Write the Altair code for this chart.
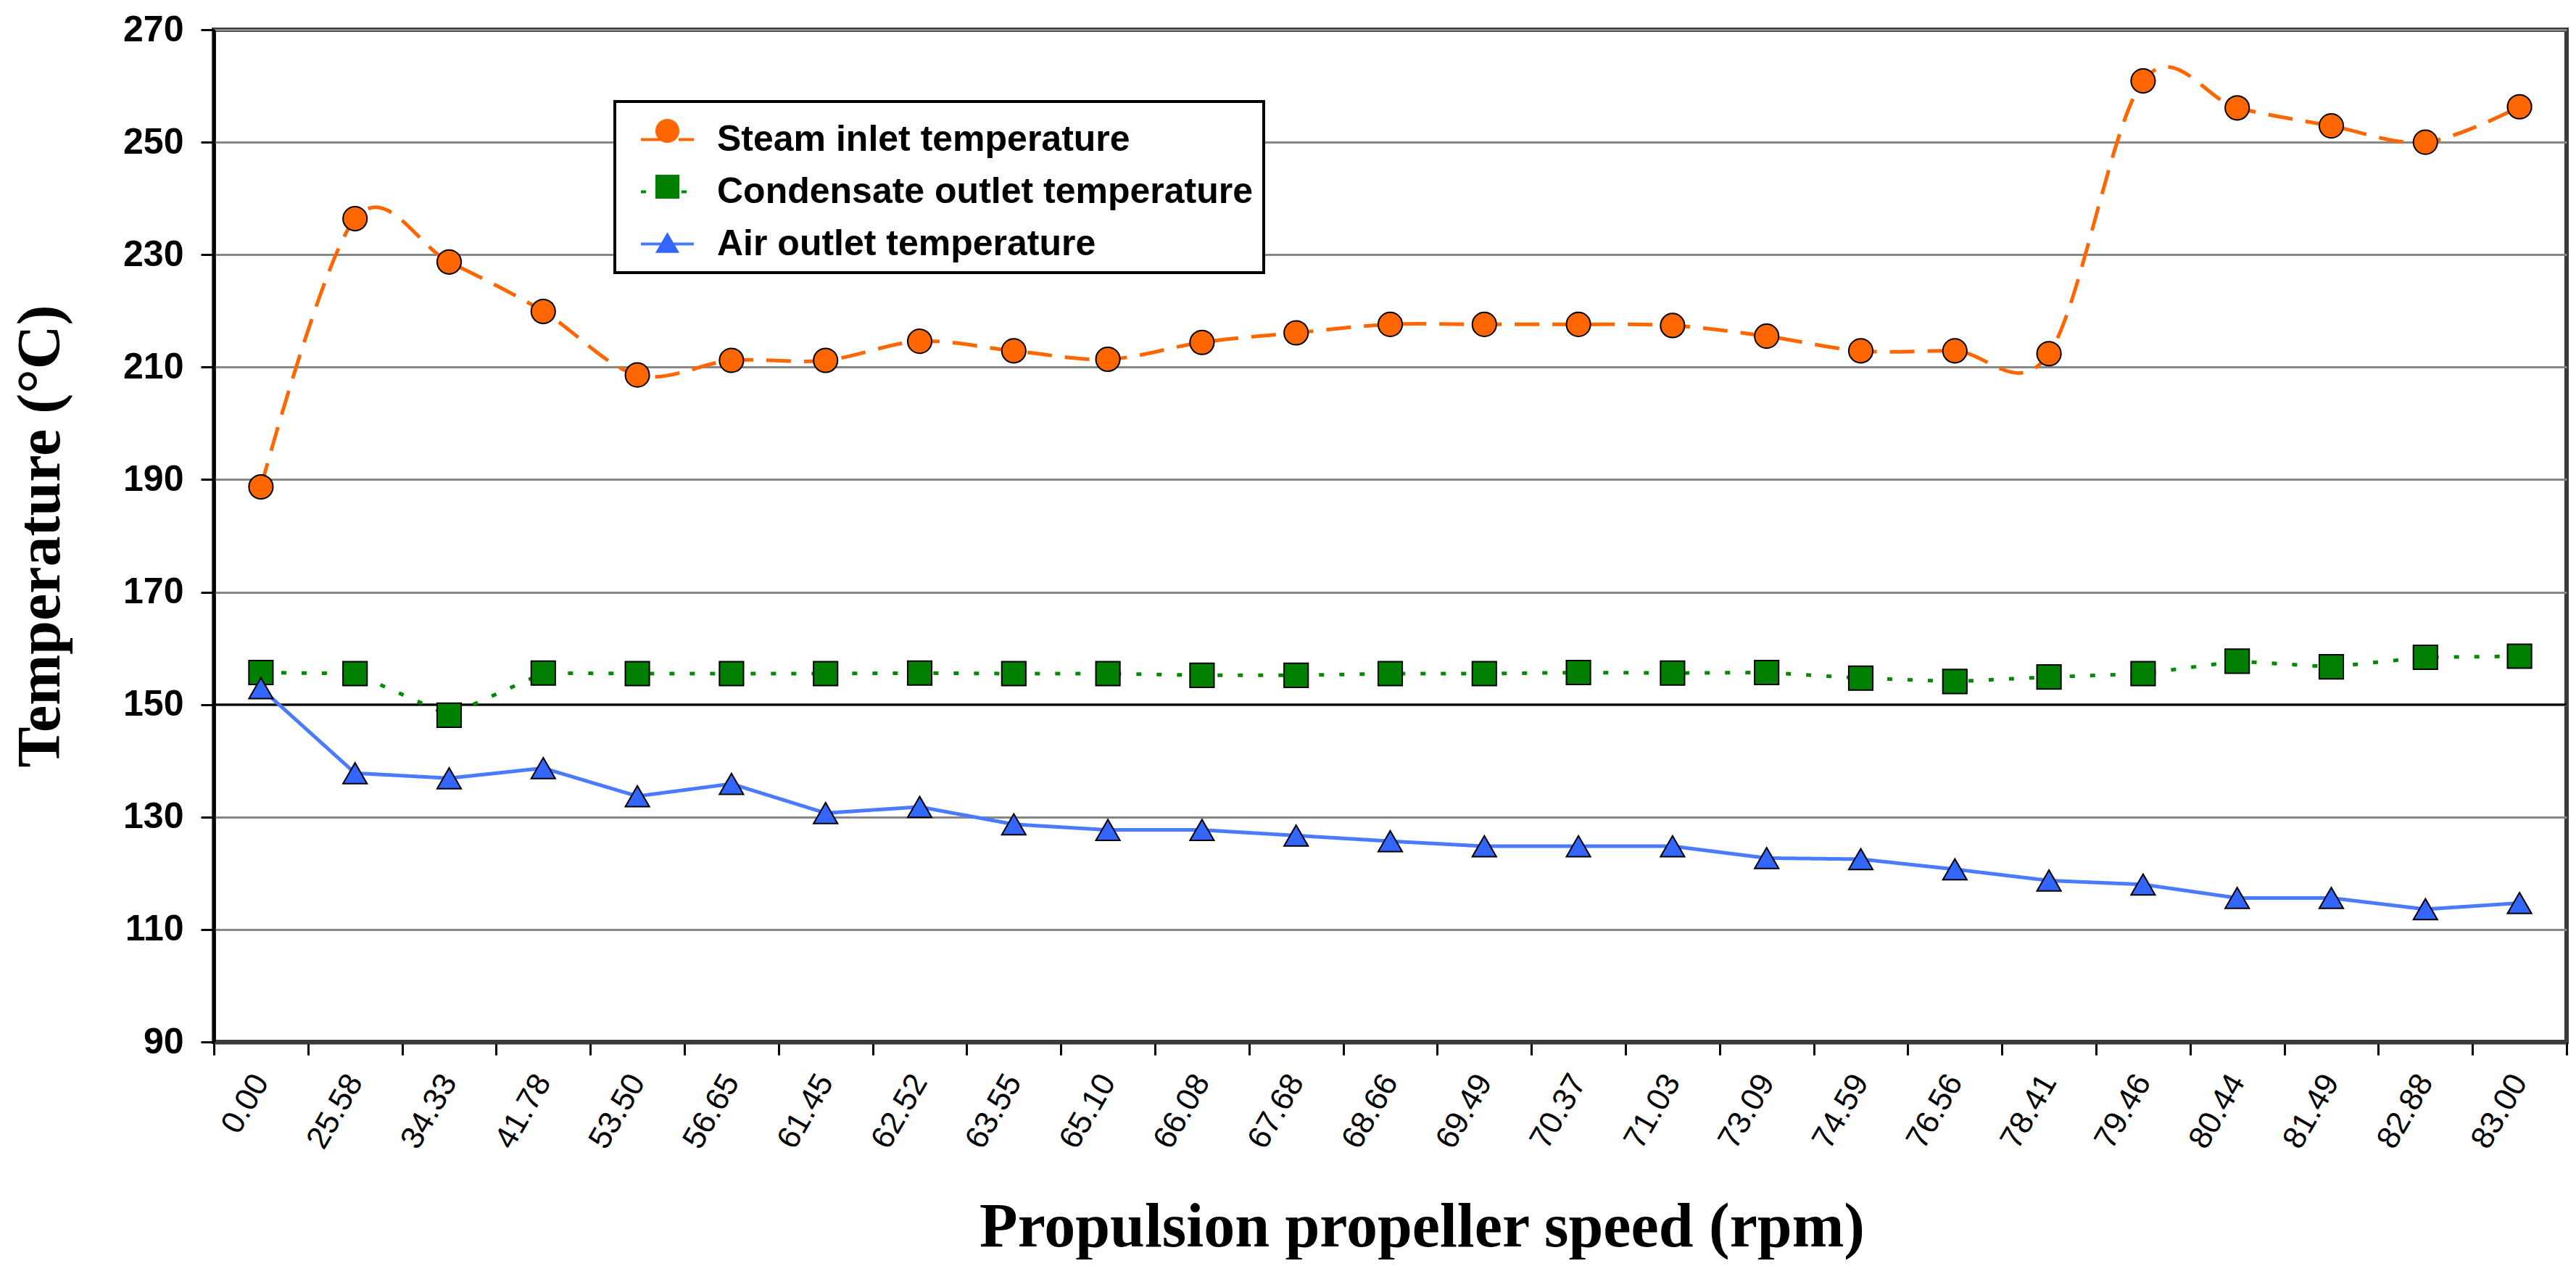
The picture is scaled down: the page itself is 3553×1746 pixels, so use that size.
import altair as alt
import pandas as pd

# ---------------- data ----------------
speed_labels = ["0.00", "25.58", "34.33", "41.78", "53.50", "56.65", "61.45", "62.52",
                "63.55", "65.10", "66.08", "67.68", "68.66", "69.49", "70.37", "71.03",
                "73.09", "74.59", "76.56", "78.41", "79.46", "80.44", "81.49", "82.88", "83.00"]

steam_inlet = [188.7, 236.4, 228.7, 219.9, 208.6, 211.2, 211.2, 214.6, 212.9, 211.4,
               214.4, 216.1, 217.6, 217.6, 217.6, 217.4, 215.5, 212.9, 212.9, 212.4,
               260.9, 256.1, 252.9, 250.0, 256.3]

condensate_outlet = [155.7, 155.5, 148.1, 155.6, 155.5, 155.5, 155.5, 155.6, 155.5, 155.5,
                     155.2, 155.2, 155.5, 155.5, 155.7, 155.6, 155.7, 154.7, 154.1, 154.9,
                     155.5, 157.7, 156.7, 158.4, 158.6]

air_outlet = [152.9, 137.8, 136.9, 138.7, 133.7, 135.9, 130.7, 131.8, 128.7, 127.7,
              127.7, 126.7, 125.7, 124.8, 124.8, 124.8, 122.7, 122.5, 120.7, 118.7,
              118.0, 115.6, 115.6, 113.6, 114.7]

series_names = ["Steam inlet temperature", "Condensate outlet temperature", "Air outlet temperature"]
marker_colors = ["#FF6600", "#007F00", "#3366FF"]
line_colors = ["#FF6600", "#008A00", "#4A7BFF"]
line_dashes = [[34, 18], [7, 21], [1, 0]]
marker_shapes = ["circle", "square", "triangle-up"]

y_ticks = [90, 110, 130, 150, 170, 190, 210, 230, 250, 270]
axis_cross = [150]

# ---------------- long table ----------------
rows = []
for k, (name, vals) in enumerate(zip(series_names, [steam_inlet, condensate_outlet, air_outlet])):
    for s, v in zip(speed_labels, vals):
        rows.append({"speed": s, "series": name, "order": k, "temp": v})
df = pd.DataFrame(rows)
cross_df = pd.DataFrame({"cross": axis_cross})

W, H = 3245, 1396

x_enc = alt.X(
    "speed:N",
    sort=speed_labels,
    scale=alt.Scale(type="band", paddingInner=0, paddingOuter=0),
    axis=alt.Axis(
        title="Propulsion propeller speed (rpm)",
        tickBand="extent",
        labelAngle=-60, labelAlign="right", labelBaseline="middle",
        labelFont="Liberation Sans", labelFontSize=44, labelColor="black",
        labelPadding=30, labelOverlap=False,
        tickSize=18, tickWidth=3, tickColor="black",
        domainColor="#3a3a3a", domainWidth=6,
        grid=False,
        titleFont="Liberation Serif", titleFontWeight="bold", titleFontSize=86,
        titleColor="black", titleX=1666, titleY=281,
        titleBaseline="alphabetic", titleAlign="center",
    ),
)

y_scale = alt.Scale(domain=[90, 270], nice=False, zero=False)

y_enc = alt.Y(
    "temp:Q",
    scale=y_scale,
    axis=alt.Axis(
        title="Temperature (°C)",
        values=y_ticks,
        grid=True, gridColor="#878787", gridWidth=3,
        labelFont="Liberation Sans", labelFontWeight="bold", labelFontSize=50,
        labelColor="black", labelPadding=24,
        tickSize=18, tickWidth=3, tickColor="black",
        domainColor="black", domainWidth=4,
        titleFont="Liberation Serif", titleFontWeight="bold", titleFontSize=84,
        titleColor="black", titleX=-214, titleBaseline="alphabetic",
    ),
)

# legend with the line stubs and the labels (white box with black frame)
legend_lines = alt.Legend(
    orient="none", legendX=553, legendY=99, title=None,
    symbolType="stroke", symbolSize=73 * 73, symbolStrokeWidth=4, symbolOffset=20,
    labelOffset=30, labelFont="Liberation Sans", labelFontWeight="bold",
    labelFontSize=50, labelColor="black", labelLimit=3000,
    padding=14, rowPadding=8, fillColor="white", strokeColor="black",
)

# legend with the markers only, laid over the stubs
legend_points = alt.Legend(
    orient="none", legendX=566.5, legendY=100.5, title=None,
    symbolSize=1100, symbolStrokeColor="black", symbolStrokeWidth=2, symbolOffset=20,
    labelFont="Liberation Sans", labelFontWeight="bold", labelFontSize=50,
    labelColor="rgba(0,0,0,0)", labelExpr="' '", labelLimit=3000,
    padding=14, rowPadding=27,
)

stroke_enc = alt.Stroke("series:N", scale=alt.Scale(domain=series_names, range=line_colors),
                        legend=legend_lines)
dash_enc = alt.StrokeDash("series:N", scale=alt.Scale(domain=series_names, range=line_dashes),
                          legend=legend_lines)
point_sort = alt.EncodingSortField(field="order", op="min")

base = alt.Chart(df)

cross_rule = alt.Chart(cross_df).mark_rule(color="black", strokeWidth=3).encode(
    y=alt.Y("cross:Q", scale=y_scale)
)

steam_line = base.transform_filter(
    alt.datum.series == series_names[0]
).mark_line(interpolate="cardinal", strokeWidth=5).encode(
    x=x_enc, y=y_enc, stroke=stroke_enc, strokeDash=dash_enc
)

other_lines = base.transform_filter(
    alt.datum.series != series_names[0]
).mark_line(strokeWidth=5).encode(
    x=x_enc, y=y_enc, stroke=stroke_enc, strokeDash=dash_enc, detail="series:N"
)

points = base.mark_point(filled=True, size=1100, stroke="black", strokeWidth=2, opacity=1).encode(
    x=x_enc, y=y_enc,
    fill=alt.Fill("series:N", sort=point_sort, scale=alt.Scale(range=marker_colors),
                  legend=legend_points),
    shape=alt.Shape("series:N", sort=point_sort, scale=alt.Scale(range=marker_shapes),
                    legend=legend_points),
)

chart = alt.layer(cross_rule, steam_line, other_lines, points).properties(
    width=W, height=H,
    autosize=alt.AutoSizeParams(type="none"),
    padding={"left": 287, "top": 33, "right": 5, "bottom": 300},
    background="white",
).configure_view(
    stroke="#3a3a3a", strokeWidth=6
).configure_legend(
    strokeWidth=4
)

chart.save("out.html", embed_options={"renderer": "svg", "actions": False})
